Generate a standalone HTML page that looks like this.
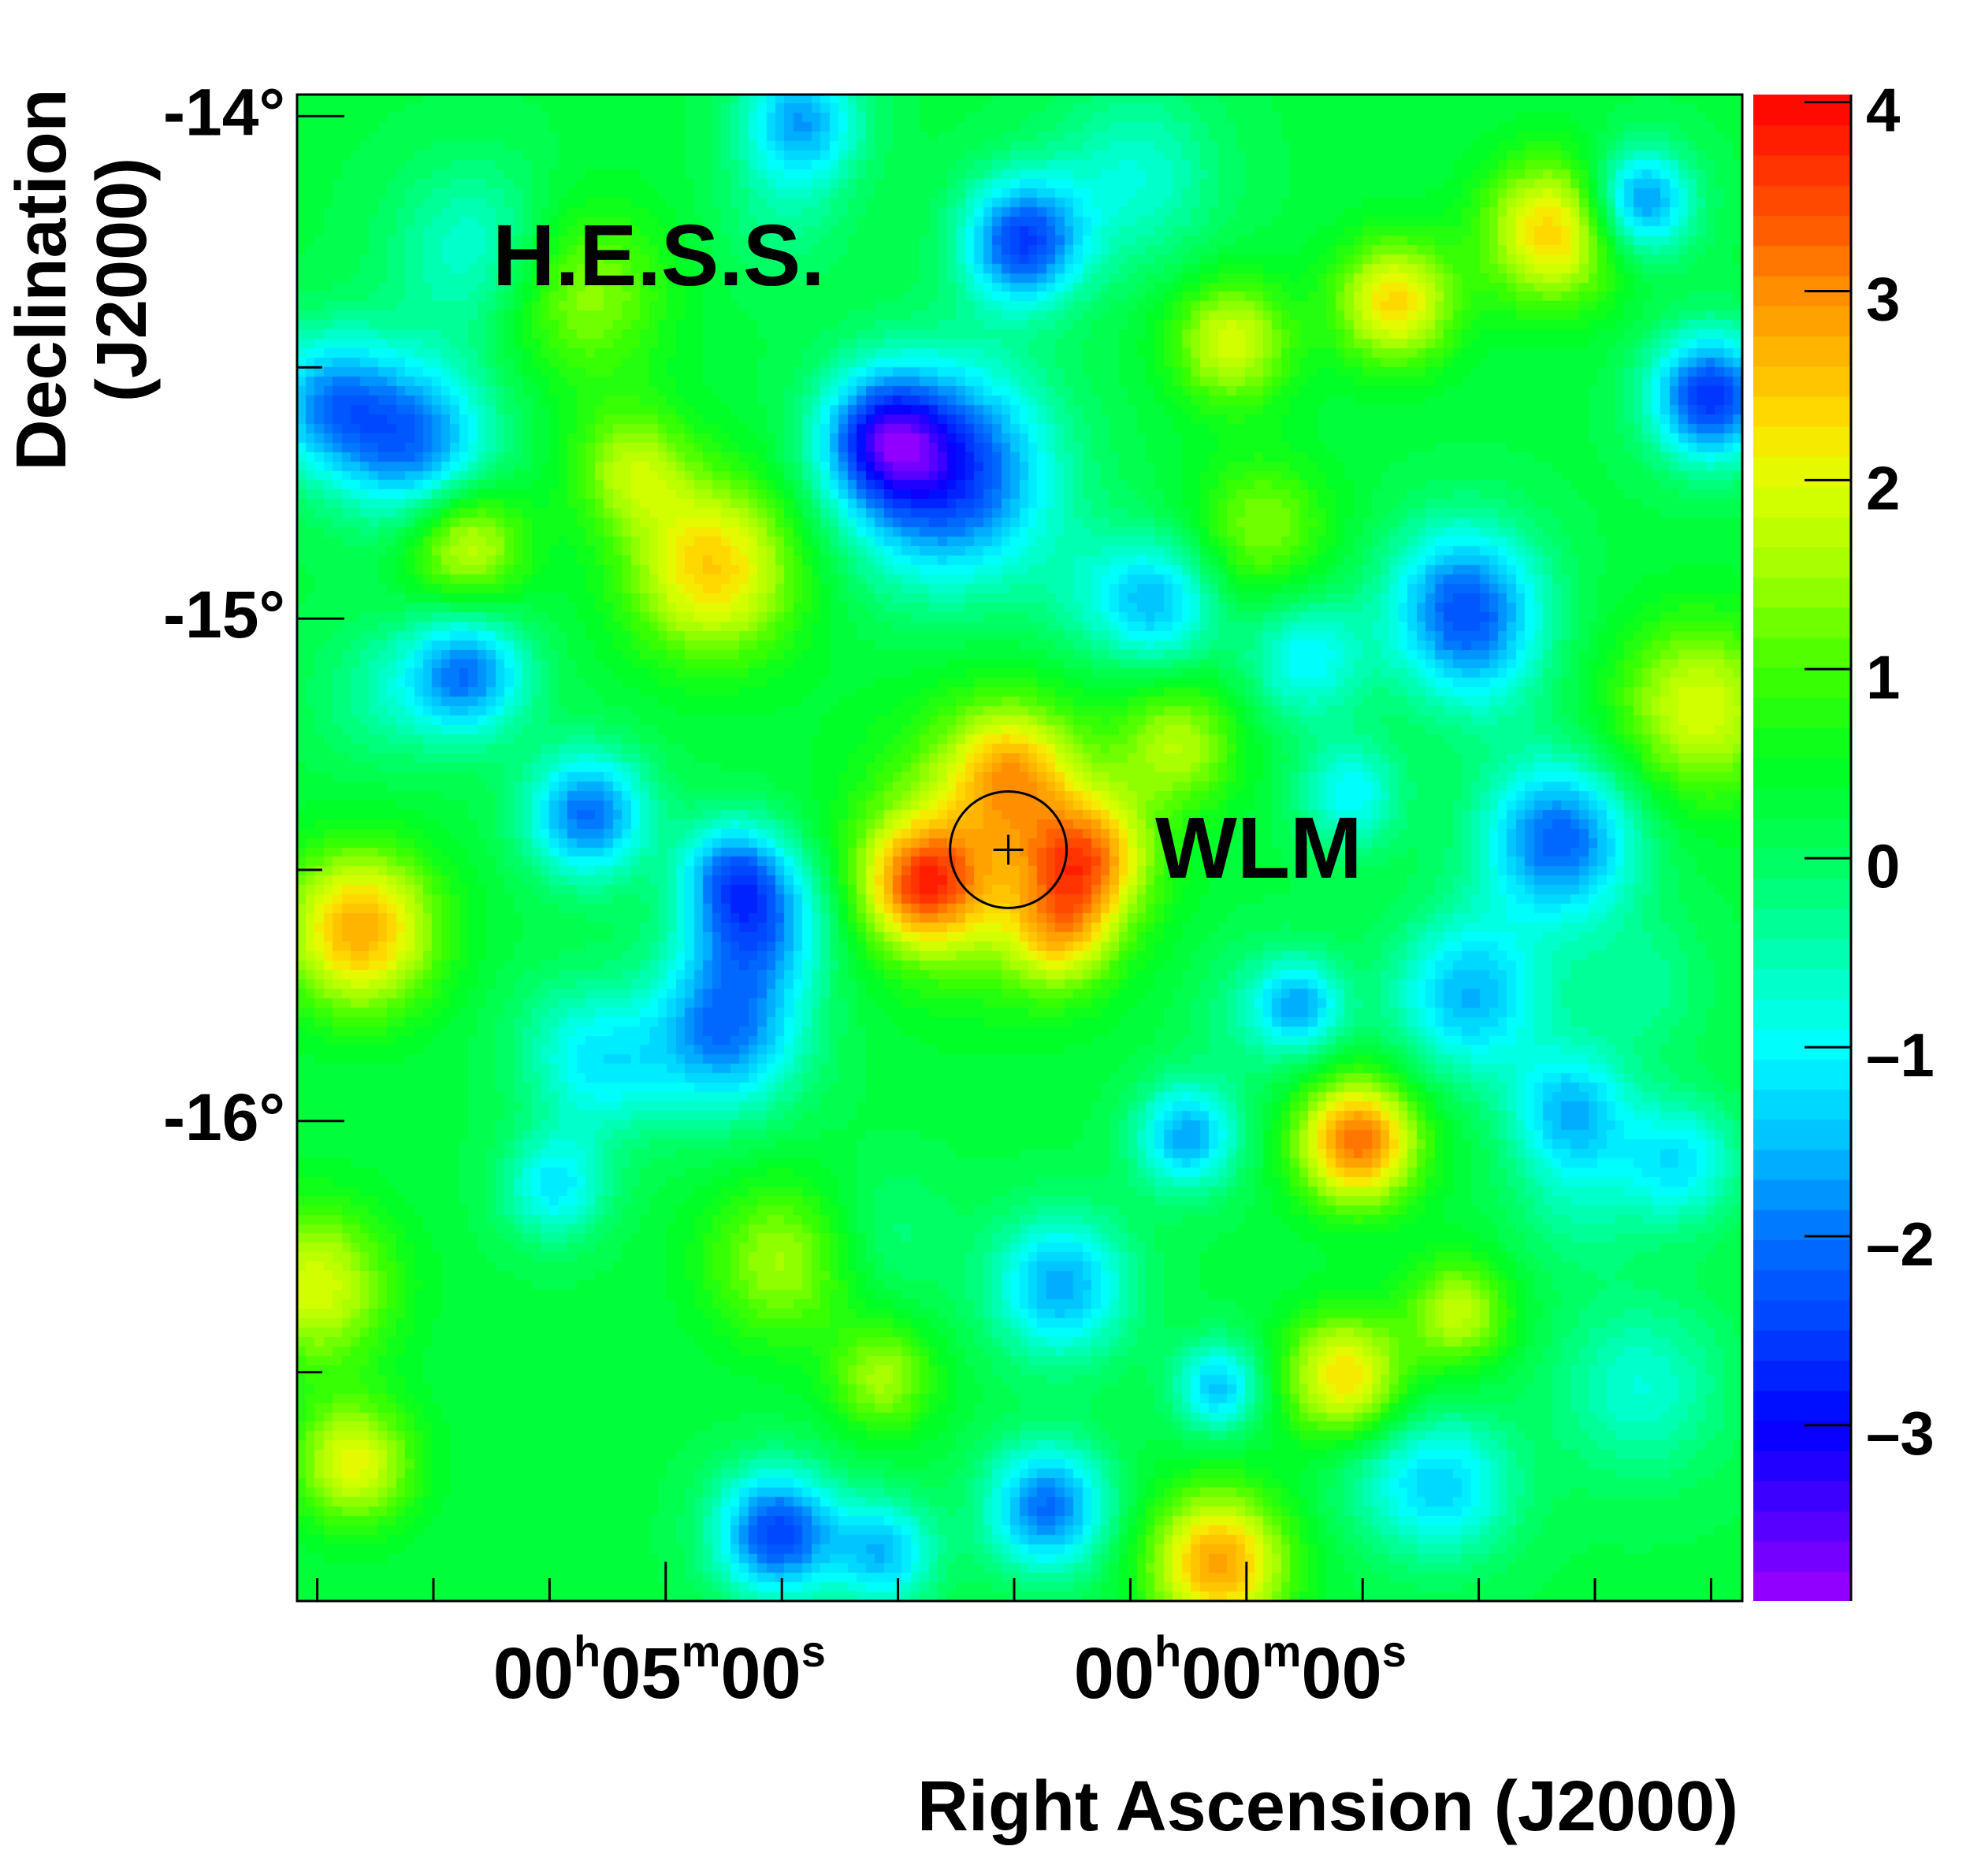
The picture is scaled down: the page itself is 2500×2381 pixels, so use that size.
<!DOCTYPE html>
<html><head><meta charset="utf-8">
<style>
html,body{margin:0;padding:0;background:#fff;}
#wrap{position:relative;width:2500px;height:2381px;overflow:hidden;font-family:"Liberation Sans",sans-serif;font-weight:bold;}
canvas{position:absolute;}
svg{position:absolute;left:0;top:0;}
</style></head>
<body>
<div id="wrap">
<canvas id="heat" width="1834" height="1912" style="left:377px;top:120px"></canvas>
<canvas id="cbar" width="124" height="1912" style="left:2225px;top:120px"></canvas>
<svg id="ov" width="2500" height="2381"></svg>
</div>
<script>
// ---- chart data (RA offset in minutes from 00h00m, east positive; Dec in degrees) ----
const blobRA  = [2.14,2.79,1.38,2.03,1.60,7.63,4.59,6.71,-0.96,-2.64,-1.28,0.13,-3.91,5.29,8.01,3.99,-0.85,7.68,0.24,5.73,0.57,-1.83,3.12,-0.14,
  2.58,3.12,1.92,7.14,7.90,-4.0,-3.40,-1.88,6.71,5.67,4.21,4.42,4.48,-2.70,-1.93,0.51,-2.80,1.60,4.04,1.71,0.24,3.83,5.95,-0.47,0.73,-3.73,3.12,-0.90,-0.52,-1.77,6.60,0.95,5.51,-3.4,
  1.27,-2.86,-1.23,3.12,5.84,-0.14,-3.4,7.45,4.0,-2.0];
const blobDec = [-15.45,-15.53,-15.48,-15.30,-15.63,-15.62,-14.90,-14.85,-16.04,-14.23,-14.37,-14.45,-15.18,-14.70,-16.33,-16.28,-16.51,-16.68,-16.88,-14.35,-15.25,-16.38,-16.51,-14.82,
  -14.71,-14.64,-14.25,-14.65,-14.57,-14.56,-14.17,-14.97,-15.11,-15.39,-15.60,-15.50,-15.82,-15.44,-15.75,-16.03,-15.98,-16.33,-16.82,-16.77,-16.53,-14.01,-16.13,-15.77,-14.97,-16.08,-16.86,-15.35,-15.08,-16.73,-14.27,-14.12,-15.90,-16.53,
  -14.95,-16.16,-16.71,-16.23,-15.83,-15.78,-15.73,-15.15,-14.2,-15.1];
const blobAmp = [1.6,2.5,2.2,1.5,1.5,2.5,2.2,1.7,3.0,2.2,2.1,1.7,1.7,1.3,1.7,1.3,2.1,1.8,2.6,1.3,1.3,1.5,1.3,1.1,
  -2.9,-2.2,-2.7,-2.2,-1.9,-2.9,-2.2,-2.3,-2.2,-2.3,-2.1,-1.5,-2.2,-2.4,-1.8,-1.9,-1.7,-1.9,-2.7,-2.3,-1.7,-1.9,-1.4,-1.5,-1.5,-1.4,-1.7,-1.3,-1.3,-1.3,-1.1,-1.0,-1.0,-1.0,
  -0.6,-0.6,-0.6,-0.5,-0.5,-0.6,-0.6,-0.6,-0.5,-0.6];
const blobSigma = [0.15,0.07,0.07,0.07,0.06,0.09,0.1,0.07,0.07,0.08,0.07,0.07,0.1,0.07,0.09,0.09,0.07,0.07,0.08,0.1,0.07,0.06,0.06,0.08,
  0.12,0.07,0.07,0.09,0.08,0.07,0.06,0.09,0.07,0.07,0.08,0.06,0.09,0.09,0.09,0.06,0.07,0.08,0.07,0.07,0.05,0.07,0.06,0.05,0.07,0.07,0.06,0.06,0.07,0.08,0.1,0.1,0.08,0.1,
  0.08,0.08,0.08,0.08,0.08,0.08,0.08,0.08,0.08,0.08];
const baseline = 0.25;
const decTicks = [-14,-15,-16];
const decTickLabels = ["-14°","-15°","-16°"];
const raMajor = [5,0];
const raLabels = [["00","h","05","m","00","s"],["00","h","00","m","00","s"]];
const cbarTicks = [4,3,2,1,0,-1,-2,-3];
const cbarLabels = ["4","3","2","1","0","\u20131","\u20132","\u20133"];
const zMin = -3.93, zMax = 4.04, nBands = 50;
const source = {ra:2.05, dec:-15.46, radius:0.116};

// ---- axes ----
const X0=377, X1=2211, Y0=120, Y1=2032;
const xOf = m => 1581.8 - m*147.4;
const yOf = d => 147.4 + (-14 - d)*637.7;
const raOf = x => (1581.8 - x)/147.4;
const decOf = y => -14 - (y-147.4)/637.7;
const cY = z => Y0 + (zMax - z)/(zMax - zMin)*(Y1-Y0);

const stops=[[-3.93,[160,0,255]],[-3.5,[80,0,255]],[-3,[0,0,255]],[-2.5,[0,64,255]],[-2,[0,112,255]],[-1.5,[0,192,255]],[-1,[0,255,255]],[-0.5,[0,255,176]],[0,[0,255,96]],[0.5,[0,255,32]],[1,[64,255,0]],[1.5,[160,255,0]],[2,[224,255,0]],[2.3,[255,224,0]],[3,[255,144,0]],[3.3,[255,96,0]],[4.04,[255,0,0]]];
function col(z){
  const b=Math.max(0,Math.min(nBands-1,Math.floor((z-zMin)/(zMax-zMin)*nBands)));
  const v=zMin+(b+0.5)*(zMax-zMin)/nBands;
  for(let i=1;i<stops.length;i++){ if(v<=stops[i][0]){const a=stops[i-1],c=stops[i],t=(v-a[0])/(c[0]-a[0]);
    return `rgb(${Math.round(a[1][0]+t*(c[1][0]-a[1][0]))},${Math.round(a[1][1]+t*(c[1][1]-a[1][1]))},${Math.round(a[1][2]+t*(c[1][2]-a[1][2]))})`;}}
  return 'rgb(255,0,0)';
}
function field(m,d){
  let z=baseline;
  for(let i=0;i<blobAmp.length;i++){
    const s=blobSigma[i]*1.25;
    const dx=(m-blobRA[i])*0.25*Math.cos(d*Math.PI/180), dy=d-blobDec[i];
    z+=blobAmp[i]*Math.exp(-(dx*dx+dy*dy)/(2*s*s));
  }
  return z;
}
const hc=document.getElementById('heat').getContext('2d');
const NX=160, NY=160, cw=(X1-X0)/NX, ch=(Y1-Y0)/NY;
for(let j=0;j<NY;j++)for(let i=0;i<NX;i++){
  const px=X0+(i+0.5)*cw, py=Y0+(j+0.5)*ch;
  hc.fillStyle=col(field(raOf(px),decOf(py)));
  hc.fillRect(Math.floor(i*cw),Math.floor(j*ch),Math.ceil(cw)+1,Math.ceil(ch)+1);
}
const cc=document.getElementById('cbar').getContext('2d');
for(let b=0;b<nBands;b++){
  const z0=zMin+b*(zMax-zMin)/nBands, z1=zMin+(b+1)*(zMax-zMin)/nBands;
  cc.fillStyle=col((z0+z1)/2);
  cc.fillRect(0,cY(z1)-Y0,124,cY(z0)-cY(z1)+1);
}
const NS='http://www.w3.org/2000/svg', ov=document.getElementById('ov');
function mk(tag,attrs,parent){const e=document.createElementNS(NS,tag);for(const k in attrs)e.setAttribute(k,attrs[k]);(parent||ov).appendChild(e);return e;}
let e;
e=mk('rect',{x:X0,y:Y0,width:X1-X0,height:Y1-Y0,fill:'none',stroke:'#000','stroke-width':3});


decTicks.forEach((d,i)=>{
  e=mk('line',{x1:X0,x2:X0+60,y1:yOf(d),y2:yOf(d),stroke:'#000','stroke-width':3});
  
  
  e=mk('line',{x1:X0,x2:X0+32,y1:yOf(d-0.5),y2:yOf(d-0.5),stroke:'#000','stroke-width':3});
  
  
  e=mk('text',{x:362,y:yOf(d)+24,'text-anchor':'end','font-size':84,'font-weight':'bold','font-family':'Liberation Sans, sans-serif'});
  e.textContent=decTickLabels[i];
  
  
});
for(let m=8;m>=-4;m--){
  const major=raMajor.includes(m);
  e=mk('line',{x1:xOf(m),x2:xOf(m),y1:Y1,y2:Y1-(major?50:29),stroke:'#000','stroke-width':3});
  
  
}
raMajor.forEach((m,i)=>{
  e=mk('text',{x:xOf(m)-8,y:2155,'text-anchor':'middle','font-size':92,'font-weight':'bold','font-family':'Liberation Sans, sans-serif'});
  
  
  raLabels[i].forEach((s,k)=>{const t=mk('tspan',k%2?{'font-size':56,dy:-40}:{'font-size':92,dy:k?40:0},e);t.textContent=s;});
});
e=mk('line',{x1:2349,x2:2349,y1:Y0,y2:Y1,stroke:'#000','stroke-width':3});


cbarTicks.forEach((z,i)=>{
  e=mk('line',{x1:2290,x2:2349,y1:cY(z),y2:cY(z),stroke:'#000','stroke-width':3});
  
  
  e=mk('text',{x:2368,y:cY(z)+37,'font-size':78,'font-weight':'bold','font-family':'Liberation Sans, sans-serif'});
  e.textContent=cbarLabels[i];
  
  
});
e=mk('circle',{cx:xOf(source.ra),cy:yOf(source.dec),r:source.radius*637.7,fill:'none',stroke:'#000','stroke-width':3});


e=mk('path',{d:`M${xOf(source.ra)-19},${yOf(source.dec)}h38M${xOf(source.ra)},${yOf(source.dec)-19}v38`,stroke:'#000','stroke-width':3});


</script>
<svg width="2500" height="2381" style="position:absolute;left:0;top:0">
<text x="625" y="362" font-size="110" font-weight="bold" font-family="Liberation Sans, sans-serif">H.E.S.S.</text>
<text x="1466" y="1114" font-size="110" font-weight="bold" font-family="Liberation Sans, sans-serif">WLM</text>
<text x="2206" y="2323" text-anchor="end" font-size="90" font-weight="bold" font-family="Liberation Sans, sans-serif">Right Ascension (J2000)</text>
<text transform="translate(83,355) rotate(-90)" text-anchor="middle" font-size="90" font-weight="bold" font-family="Liberation Sans, sans-serif">Declination</text>
<text transform="translate(185,355) rotate(-90)" text-anchor="middle" font-size="90" font-weight="bold" font-family="Liberation Sans, sans-serif">(J2000)</text>
</svg>
</body></html>
